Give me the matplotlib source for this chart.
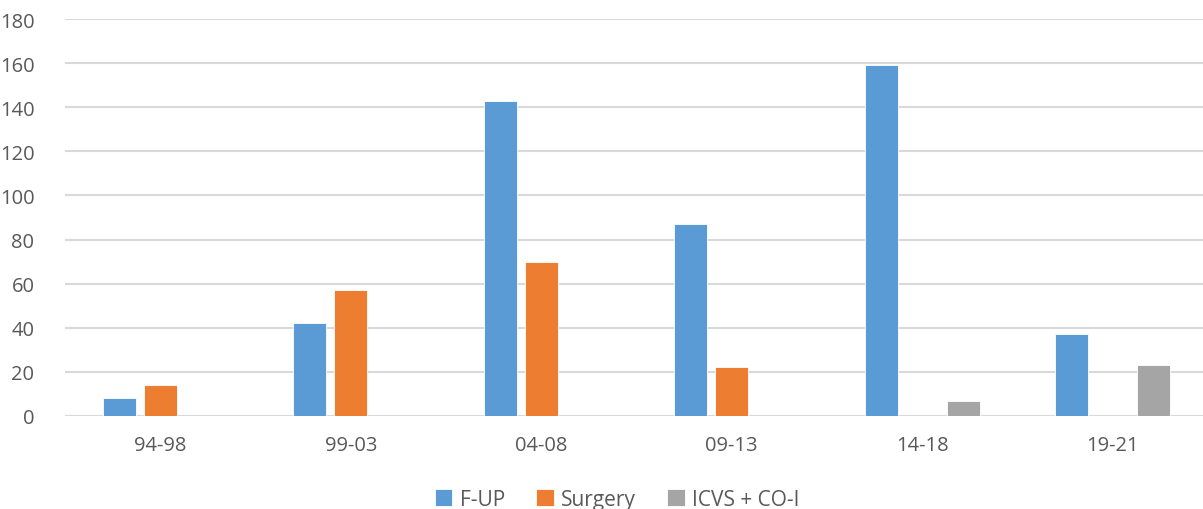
import matplotlib
matplotlib.use('Agg')
import matplotlib.pyplot as plt
import numpy as np

periods = ['94-98', '99-03', '04-08', '09-13', '14-18', '19-21']
f_up = [8, 42, 143, 87, 159, 37]
surgery = [14, 57, 70, 22, 0, 0]
icvs_coi = [0, 0, 0, 0, 7, 23]

series = [
    ('F-UP', f_up, '#5b9bd5'),
    ('Surgery', surgery, '#ed7d31'),
    ('ICVS + CO-I', icvs_coi, '#a5a5a5'),
]

plt.rcParams['font.family'] = ['Open Sans', 'DejaVu Sans']
text_color = '#595959'

fig = plt.figure(figsize=(12.03, 5.10), dpi=100)
ax = fig.add_axes([65 / 1203, 1 - 417 / 510, 1143 / 1203, 397 / 510])

x = np.arange(len(periods))
width = 0.175
offsets = [-0.215, 0.0, 0.215]
for (name, vals, color), off in zip(series, offsets):
    ax.bar(x + off, vals, width, color=color, label=name,
           edgecolor='white', linewidth=0.6, zorder=3)

ax.set_xlim(-0.5, 5.5)
ax.set_ylim(0, 180)
ax.set_yticks(range(0, 181, 20))
ax.set_xticks(x)
ax.set_xticklabels(periods)
ax.grid(axis='y', color='#d9d9d9', linewidth=1.5, zorder=0)
ax.set_axisbelow(True)
for s in ax.spines.values():
    s.set_visible(False)
ax.tick_params(length=0, labelsize=14.5, labelcolor=text_color)
ax.tick_params(axis='x', pad=14)
ax.tick_params(axis='y', pad=22)

# legend along the bottom edge
leg = fig.legend(loc='upper center', bbox_to_anchor=(0.513, 0.076), ncol=3,
                 frameon=False, fontsize=15, handlelength=0.85, handleheight=0.85,
                 handletextpad=0.35, columnspacing=1.5)
for t in leg.get_texts():
    t.set_color(text_color)

fig.savefig('out.png', dpi=100)
